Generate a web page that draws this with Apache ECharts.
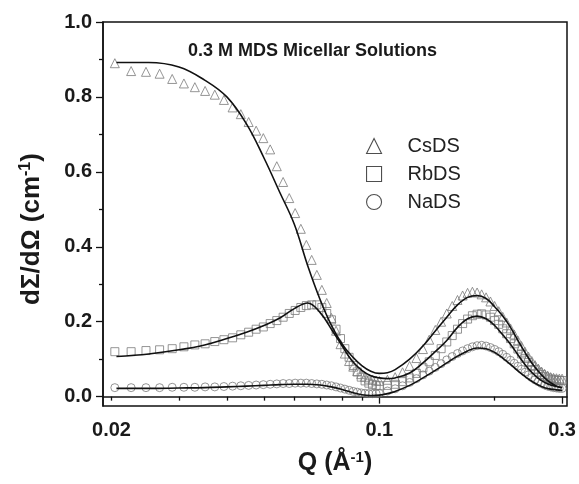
<!DOCTYPE html>
<html>
<head>
<meta charset="utf-8">
<script src="https://cdn.jsdelivr.net/npm/echarts@6/dist/echarts.min.js"></script>
<style>html,body{margin:0;padding:0;background:#fff}#c{width:579px;height:484px}</style>
</head>
<body>
<div id="c"></div>
<script>
// Measured Q values (Å^-1) of the data points
const dataQ = [0.0204,0.0225,0.0246,0.0267,0.0288,0.0309,0.0330,0.0351,0.0372,0.0393,0.0414,0.0435,0.0456,0.0477,0.0498,0.0519,0.0540,0.0561,0.0582,0.0603,0.0624,0.0645,0.0666,0.0687,0.0708,0.0729,0.0750,0.0771,0.0792,0.0813,0.0834,0.0855,0.0876,0.0897,0.0918,0.0939,0.0960,0.0981,
 0.100,0.105,0.110,0.115,0.120,0.125,0.130,0.135,0.140,0.145,0.150,0.155,0.160,0.165,0.170,0.175,0.180,0.185,0.190,0.195,0.200,0.205,0.210,0.215,0.220,0.225,0.230,0.235,0.240,0.245,0.250,0.255,0.260,0.265,0.270,0.275,0.280,0.285,0.290,0.295,0.300];
const csdsData = [0.89,0.869,0.867,0.862,0.848,0.836,0.826,0.816,0.806,0.792,0.772,0.754,0.733,0.71,0.69,0.66,0.615,0.573,0.53,0.49,0.448,0.405,0.365,0.325,0.285,0.25,0.21,0.176,0.14,0.115,0.095,0.08,0.068,0.06,0.053,0.048,0.045,0.043,
 0.042,0.045,0.052,0.065,0.082,0.103,0.127,0.152,0.178,0.2,0.222,0.242,0.258,0.27,0.277,0.28,0.278,0.273,0.265,0.254,0.242,0.228,0.213,0.198,0.182,0.166,0.15,0.135,0.12,0.107,0.095,0.084,0.075,0.067,0.061,0.056,0.052,0.05,0.049,0.048,0.048];
const rbdsData = [0.12,0.12,0.123,0.125,0.128,0.133,0.138,0.141,0.147,0.152,0.157,0.165,0.172,0.18,0.186,0.195,0.203,0.212,0.222,0.23,0.238,0.243,0.245,0.245,0.238,0.222,0.205,0.18,0.155,0.128,0.105,0.083,0.066,0.052,0.042,0.036,0.032,0.03,
 0.029,0.03,0.033,0.04,0.05,0.062,0.077,0.093,0.11,0.128,0.146,0.163,0.18,0.195,0.207,0.216,0.22,0.221,0.218,0.212,0.203,0.193,0.181,0.168,0.155,0.141,0.127,0.114,0.102,0.091,0.081,0.072,0.065,0.059,0.054,0.05,0.047,0.045,0.044,0.043,0.043];
const nadsData = [0.024,0.024,0.024,0.024,0.025,0.025,0.025,0.026,0.026,0.027,0.028,0.029,0.03,0.031,0.032,0.033,0.034,0.035,0.035,0.036,0.036,0.036,0.035,0.034,0.033,0.031,0.029,0.026,0.023,0.02,0.017,0.014,0.012,0.01,0.009,0.008,0.008,0.008,
 0.009,0.015,0.021,0.029,0.038,0.048,0.058,0.068,0.078,0.088,0.098,0.107,0.115,0.122,0.128,0.133,0.136,0.137,0.135,0.131,0.126,0.12,0.113,0.105,0.097,0.089,0.081,0.073,0.065,0.058,0.051,0.045,0.04,0.035,0.031,0.028,0.026,0.024,0.023,0.022,0.022];

// Fit curves
const fitQ = [0.0206,0.025,0.03,0.035,0.04,0.045,0.05,0.055,0.06,0.065,0.07,0.075,0.08,0.085,0.09,0.095,0.1,0.105,0.11,0.12,0.13,0.14,0.15,0.16,0.17,0.18,0.19,0.2,0.21,0.22,0.23,0.24,0.25,0.26,0.27,0.28,0.29,0.3];
const csdsFit = [0.892,0.892,0.88,0.845,0.80,0.728,0.637,0.545,0.46,0.35,0.26,0.19,0.14,0.107,0.083,0.068,0.062,0.064,0.072,0.10,0.135,0.175,0.212,0.245,0.265,0.27,0.262,0.24,0.215,0.185,0.15,0.118,0.09,0.068,0.05,0.037,0.028,0.023];
const rbdsFit = [0.107,0.114,0.125,0.138,0.155,0.172,0.19,0.21,0.235,0.25,0.225,0.18,0.135,0.095,0.07,0.056,0.05,0.048,0.05,0.063,0.09,0.12,0.15,0.185,0.208,0.215,0.208,0.19,0.165,0.14,0.112,0.086,0.065,0.049,0.038,0.031,0.027,0.025];
const nadsFit = [0.022,0.022,0.023,0.024,0.026,0.028,0.03,0.032,0.033,0.033,0.031,0.026,0.019,0.011,0.005,0.003,0.004,0.008,0.014,0.03,0.05,0.07,0.09,0.108,0.122,0.13,0.128,0.118,0.103,0.086,0.069,0.054,0.041,0.031,0.024,0.02,0.018,0.017];

const seriesNames = ['CsDS','RbDS','NaDS'];
const xLabelValues = [0.02,0.1,0.3];
const xLabelTexts = ['0.02','0.1','0.3'];
const xMajorTicks = [0.1,0.3];
const xMinorTicks = [0.02,0.03,0.04,0.05,0.06,0.07,0.08,0.09,0.2];
const yMajorTicks = [0,0.2,0.4,0.6,0.8,1.0];
const yMinorTicks = [0.1,0.3,0.5,0.7,0.9];
const titleText = '0.3 M MDS Micellar Solutions';

const L = Math.log10;
const pairs = (qs, vs) => qs.map((q, i) => [L(q), vs[i]]);

const markerStyle = {color: 'rgba(255,255,255,0)', borderColor: '#7a7a7a', borderWidth: 1};
const lineStyle = {color: '#111', width: 1.6};

const chart = echarts.init(document.getElementById('c'), null, {renderer: 'canvas'});
const bold = {fontFamily: 'Liberation Sans, Arial, sans-serif', fontWeight: 'bold', color: '#1a1a1a'};

chart.setOption({
  animation: false,
  backgroundColor: '#fff',
  title: {
    text: titleText, left: 183, top: 37,
    textStyle: {fontFamily: 'Liberation Sans, Arial, sans-serif', fontWeight: 'bold', fontSize: 18, color: '#1a1a1a'}
  },
  legend: {
    orient: 'vertical', left: 361, top: 131, itemGap: 8,
    itemWidth: 15, itemHeight: 15,
    data: seriesNames,
    itemStyle: {color: 'rgba(255,255,255,0)', borderColor: '#222', borderWidth: 1.1},
    textStyle: {fontFamily: 'Liberation Sans, Arial, sans-serif', fontSize: 20, color: '#222', padding: [0,0,0,21]}
  },
  grid: {left: 103, top: 22, right: 12, bottom: 78, show: true, borderColor: '#111', borderWidth: 1.5, containLabel: false},
  xAxis: [{
    type: 'value', position: 'bottom', min: L(0.019), max: L(0.309),
    axisLine: {show: true, lineStyle: {color: '#111', width: 1.5}},
    splitLine: {show: false},
    axisTick: {show: true, customValues: xMajorTicks.map(L), length: 7, inside: false, lineStyle: {color: '#111', width: 1.3}},
    axisLabel: {show: true, customValues: xLabelValues.map(L), margin: 14, fontSize: 20, ...bold,
      formatter: v => { for (let i = 0; i < xLabelValues.length; i++) if (Math.abs(L(xLabelValues[i]) - v) < 1e-6) return xLabelTexts[i]; return ''; }},
    name: '{b|Q (Å}{s|-1}{b|)}', nameLocation: 'middle', nameGap: 44,
    nameTextStyle: {rich: {
      b: {fontSize: 25, ...bold},
      s: {fontSize: 15, ...bold, padding: [0,0,12,0]}
    }}
  }, {
    type: 'value', position: 'bottom', min: L(0.019), max: L(0.309),
    axisLine: {show: false}, splitLine: {show: false},
    axisTick: {show: true, customValues: xMinorTicks.map(L), length: 4, lineStyle: {color: '#111', width: 1.3}},
    axisLabel: {show: false}
  }],
  yAxis: [{
    type: 'value', position: 'left', min: -0.025, max: 1.0,
    axisLine: {show: true, lineStyle: {color: '#111', width: 1.5}},
    splitLine: {show: false},
    axisTick: {show: true, customValues: yMajorTicks, length: 7, lineStyle: {color: '#111', width: 1.3}},
    axisLabel: {show: true, customValues: yMajorTicks, margin: 11, fontSize: 20, ...bold, formatter: v => v.toFixed(1)},
    name: '{b|dΣ/dΩ (cm}{s|-1}{b|)}', nameLocation: 'middle', nameGap: 57, nameRotate: 90,
    nameTextStyle: {padding: [0, 30, 0, 0], rich: {
      b: {fontSize: 26, ...bold},
      s: {fontSize: 16, ...bold, padding: [0,0,12,0]}
    }}
  }, {
    type: 'value', position: 'left', min: -0.025, max: 1.0,
    axisLine: {show: false}, splitLine: {show: false},
    axisTick: {show: true, customValues: yMinorTicks, length: 4, lineStyle: {color: '#111', width: 1.3}},
    axisLabel: {show: false}
  }],
  series: [
    {name: 'CsDS', type: 'scatter', symbol: 'triangle', symbolSize: 9, itemStyle: markerStyle, data: pairs(dataQ, csdsData), z: 2},
    {name: 'RbDS', type: 'scatter', symbol: 'rect', symbolSize: 8, itemStyle: markerStyle, data: pairs(dataQ, rbdsData), z: 2},
    {name: 'NaDS', type: 'scatter', symbol: 'circle', symbolSize: 8, itemStyle: markerStyle, data: pairs(dataQ, nadsData), z: 2},
    {name: 'CsDS fit', type: 'line', showSymbol: false, smooth: 0.4, lineStyle, data: pairs(fitQ, csdsFit), z: 3},
    {name: 'RbDS fit', type: 'line', showSymbol: false, smooth: 0.4, lineStyle, data: pairs(fitQ, rbdsFit), z: 3},
    {name: 'NaDS fit', type: 'line', showSymbol: false, smooth: 0.4, lineStyle, data: pairs(fitQ, nadsFit), z: 3}
  ]
});
</script>
</body>
</html>
